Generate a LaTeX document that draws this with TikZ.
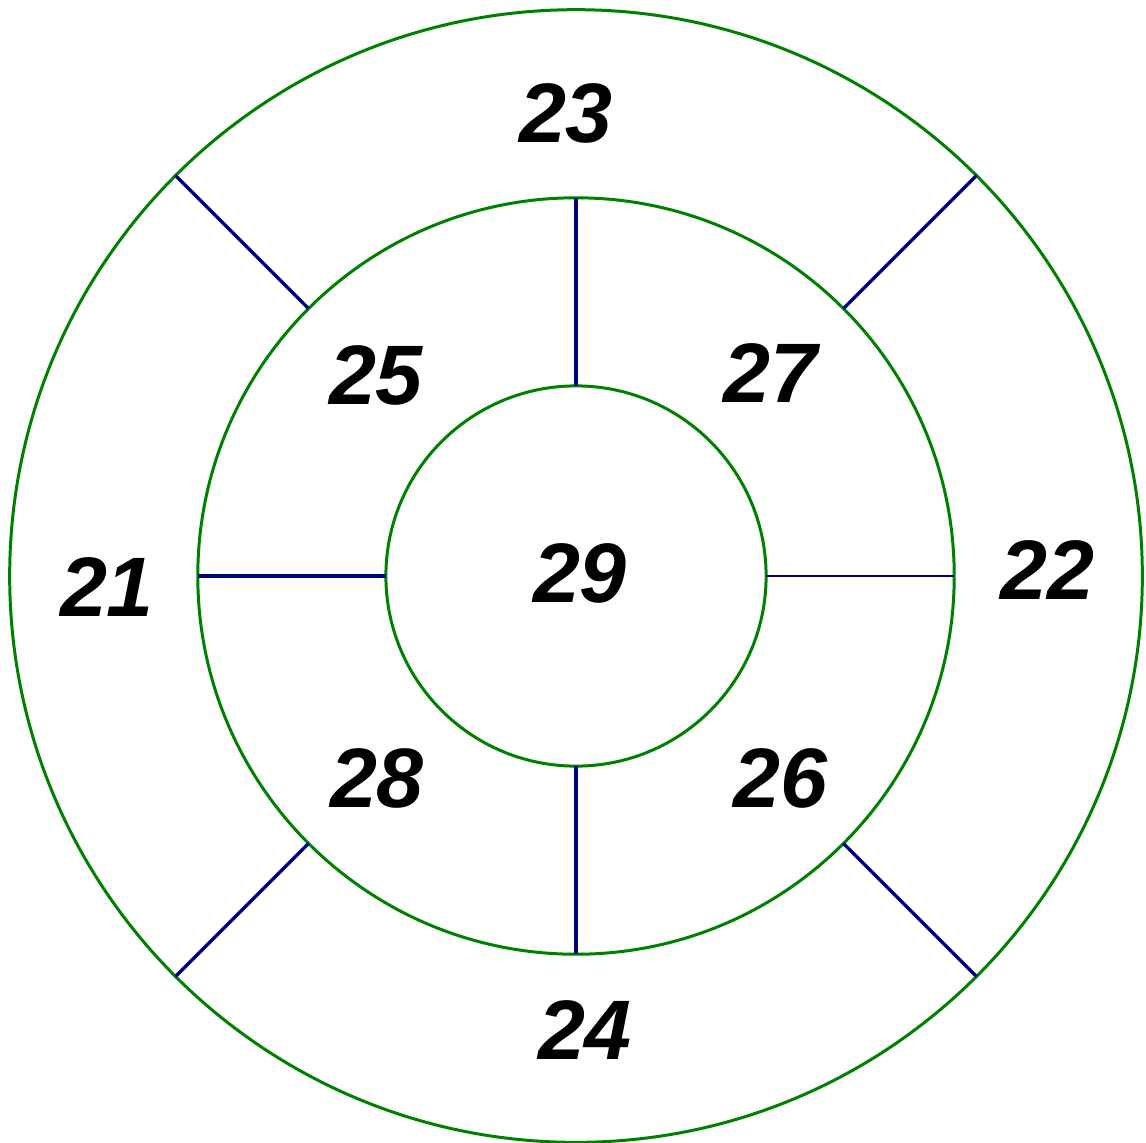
\documentclass[tikz,border=0pt]{standalone}
\usepackage{fontspec}
\setmainfont{Liberation Sans}
\usetikzlibrary{positioning}

\definecolor{ringgreen}{RGB}{0,128,0}
\definecolor{spokeblue}{RGB}{0,0,128}

\tikzset{
  ring/.style={circle,draw=ringgreen,line width=0.85pt,inner sep=0pt,outer sep=0pt},
  spoke/.style={draw=spokeblue,line width=0.95pt},
  seg/.style={font=\fontsize{24}{24}\selectfont\bfseries\itshape,inner sep=0pt}
}

\begin{document}
\begin{tikzpicture}[x=0.01cm,y=-0.01cm]
      \useasboundingbox (0,0) rectangle (1146,1142);
      \coordinate (c) at (576,576);
      \node[ring,minimum size=11.32cm] (outer) at (c) {};
      \node[ring,minimum size=7.56cm] (mid) at (c) {};
      \node[ring,minimum size=3.80cm] (inner) at (c) {};
      % spokes
      \draw[spoke] (mid.135)--(outer.135);
      \draw[spoke] (mid.45)--(outer.45);
      \draw[spoke] (mid.-45)--(outer.-45);
      \draw[spoke] (mid.-135)--(outer.-135);
      \draw[spoke] (inner.90)--(mid.90);
      \draw[spoke] (inner.-90)--(mid.-90);
      \draw[spoke] (inner.180)--(mid.180);
      \draw[spoke,line width=0.5pt] (inner.0)--(mid.0);
      % segment numbers
      \node[seg] (s21) at (107,587) {21};
      \node[seg] (s22) at (1047,570) {22};
      \node[seg] (s23) at (566,113) {23};
      \node[seg] (s24) at (585,1030) {24};
      \node[seg] (s25) at (376,375) {25};
      \node[seg] (s26) at (780,778) {26};
      \node[seg] (s27) at (770,373) {27};
      \node[seg] (s28) at (377,778) {28};
      \node[seg] (s29) at (580,573) {29};
    \end{tikzpicture}
\end{document}
